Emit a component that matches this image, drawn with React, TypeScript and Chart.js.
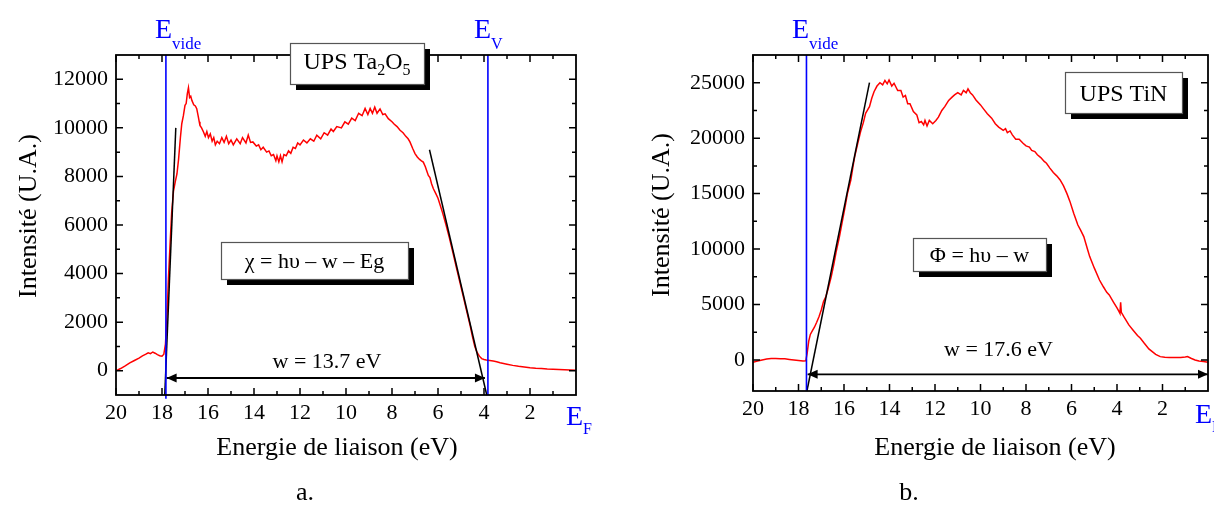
import React, { useEffect, useRef } from "react";
import { Chart, registerables } from "chart.js";
Chart.register(...registerables);

const FONT = "'Liberation Serif', 'Times New Roman', Times, serif";

// ---------- shared axis ticks ----------
const xMajorTicks = [20, 18, 16, 14, 12, 10, 8, 6, 4, 2];
const xTickLabels = ["20", "18", "16", "14", "12", "10", "8", "6", "4", "2"];
const xMinorTicks = [19, 17, 15, 13, 11, 9, 7, 5, 3, 1];

// ---------- chart a : UPS Ta2O5 ----------
const taYTicks = [0, 2000, 4000, 6000, 8000, 10000, 12000];
const taYTickLabels = ["0", "2000", "4000", "6000", "8000", "10000", "12000"];
const taYMinor = [1000, 3000, 5000, 7000, 9000, 11000];

const taEnergy = [
  20.0, 19.8, 19.6, 19.4, 19.2, 19.0, 18.85, 18.7, 18.6, 18.5, 18.4, 18.3, 18.2, 18.1, 18.0, 17.92,
  17.85, 17.78, 17.72, 17.65, 17.58, 17.5, 17.42, 17.35, 17.28, 17.2, 17.14, 17.07, 17.0, 16.95, 16.9,
  16.85, 16.8, 16.75, 16.7, 16.62, 16.55, 16.49, 16.42, 16.38, 16.35, 16.28, 16.2, 16.12, 16.05, 15.98,
  15.9, 15.82, 15.75, 15.68, 15.6, 15.5, 15.4, 15.3, 15.2, 15.1, 15.0, 14.9, 14.75, 14.6, 14.5, 14.35,
  14.25, 14.15, 14.05, 13.9, 13.8, 13.7, 13.6, 13.45, 13.35, 13.25, 13.15, 13.05, 13.0, 12.92, 12.85,
  12.78, 12.7, 12.6, 12.5, 12.4, 12.3, 12.2, 12.1, 12.0, 11.85, 11.7, 11.55, 11.4, 11.27, 11.1, 10.95,
  10.8, 10.65, 10.55, 10.4, 10.2, 10.05, 9.9, 9.75, 9.6, 9.45, 9.3, 9.17, 9.05, 8.95, 8.85, 8.75, 8.65,
  8.52, 8.4, 8.3, 8.16, 8.0, 7.9, 7.78, 7.65, 7.52, 7.4, 7.3, 7.22, 7.1, 7.0, 6.9, 6.8, 6.72, 6.64, 6.55,
  6.48, 6.42, 6.35, 6.28, 6.2, 6.1, 6.0, 5.9, 5.8, 5.65, 5.5, 5.35, 5.2, 5.05, 4.9, 4.75, 4.6, 4.5, 4.4,
  4.3, 4.2, 4.1, 4.0, 3.9, 3.75, 3.6, 3.45, 3.3, 3.15, 3.0, 2.75, 2.5, 2.25, 2.0, 1.75, 1.5, 1.25, 1.0,
  0.75, 0.5, 0.25, 0.0,
];
const taIntensity = [
  0, 90, 200, 320, 420, 520, 610, 680, 740, 700, 770, 720, 660, 620, 600, 680,
  1100, 2300, 3800, 5200, 6500, 7400, 7800, 8100, 8700, 9600, 10170, 10500, 10930, 11000, 11400,
  11650, 11250, 11300, 11130, 10950, 10900, 10790, 10450, 10250, 10100, 10000, 9840, 9650, 9850, 9600,
  9750, 9450, 9600, 9300, 9450, 9350, 9600, 9400, 9650, 9350, 9500, 9300, 9550, 9350, 9600, 9380,
  9700, 9400, 9420, 9250, 9300, 9100, 9200, 9000, 9050, 8850, 8900, 8650, 8850, 8600, 8850,
  8600, 8900, 8850, 9050, 8950, 9200, 9150, 9380, 9300, 9500, 9380, 9550, 9450, 9700, 9550, 9800,
  9700, 9950, 9850, 10050, 10000, 10250, 10150, 10400, 10300, 10600, 10500, 10800, 10550, 10800, 10600, 10850, 10600,
  10780, 10550, 10580, 10380, 10250, 10150, 10050, 9900, 9800, 9650, 9550, 9420, 9150, 8940, 8800, 8700, 8640, 8590, 8400,
  8200, 8040, 7950, 7700, 7490, 7300, 7100, 6800, 6500, 6000, 5450, 4850, 4250, 3650, 3050, 2450, 1850, 1400, 1000,
  750, 600, 500, 460, 440, 420, 400, 370, 330, 300, 270, 220, 180, 150, 120, 100, 90, 70, 60,
  50, 40, 30, 20,
];
const taTangentLowE = [17.4, 17.88];
const taTangentLowI = [10000, -1000];
const taTangentHighE = [6.37, 3.88];
const taTangentHighI = [9100, -1000];
const taVacuumE = [17.83, 17.83];
const taVacuumI = [-1150, 13000];
const taValenceE = [3.83, 3.83];
const taValenceI = [-1000, 13000];
const taArrowE = [17.8, 3.96];
const taArrowI = [-300, -300];

// ---------- chart b : UPS TiN ----------
const tinYTicks = [0, 5000, 10000, 15000, 20000, 25000];
const tinYTickLabels = ["0", "5000", "10000", "15000", "20000", "25000"];
const tinYMinor = [2500, 7500, 12500, 17500, 22500];

const tinEnergy = [
  20.0, 19.8, 19.6, 19.4, 19.2, 19.0, 18.8, 18.6, 18.4, 18.2, 18.0, 17.8, 17.68, 17.62, 17.55, 17.48,
  17.4, 17.3, 17.2, 17.1, 17.0, 16.9, 16.8, 16.7, 16.56, 16.45, 16.35, 16.2, 16.1, 15.95, 15.85, 15.7,
  15.6, 15.53, 15.4, 15.27, 15.15, 15.05, 14.95, 14.88, 14.78, 14.68, 14.55, 14.42, 14.3, 14.2, 14.1,
  14.02, 13.9, 13.8, 13.64, 13.5, 13.4, 13.3, 13.2, 13.1, 12.95, 12.8, 12.7, 12.6, 12.5, 12.44, 12.35,
  12.25, 12.1, 11.96, 11.85, 11.7, 11.57, 11.4, 11.25, 11.14, 11.0, 10.85, 10.75, 10.63, 10.55, 10.45,
  10.35, 10.2, 10.0, 9.85, 9.7, 9.51, 9.35, 9.2, 9.0, 8.9, 8.82, 8.7, 8.6, 8.45, 8.3, 8.13, 8.0, 7.85,
  7.75, 7.61, 7.5, 7.35, 7.2, 7.1, 6.95, 6.8, 6.65, 6.5, 6.35, 6.2, 6.07, 5.9, 5.72, 5.6, 5.46, 5.3,
  5.2, 5.0, 4.77, 4.6, 4.45, 4.34, 4.15, 4.0, 3.91, 3.87, 3.84, 3.81, 3.7, 3.48, 3.3, 3.1, 2.97, 2.8,
  2.6, 2.45, 2.3, 2.1, 1.9, 1.7, 1.42, 1.2, 1.0, 0.9, 0.75, 0.57, 0.4, 0.2, 0.0,
];
const tinIntensity = [
  -200, -100, 0, 80, 120, 130, 110, 100, 50, 0, -50, -100, -80, 600, 1700, 2300,
  2600, 2950, 3400, 3900, 4500, 5260, 5700, 6400, 7510, 8600, 9700, 11120, 12200, 13820, 15000, 16230,
  17500, 18330, 19500, 20590, 21400, 22240, 22600, 22840, 23600, 24190, 24700, 25000, 24800, 25200, 24900,
  25250, 24700, 24950, 24300, 24300, 23700, 23850, 23100, 23100, 22400, 22100, 21400, 21500, 21200, 21600, 21100,
  21600, 21300, 21600, 21900, 22500, 22840, 23400, 23700, 23900, 24100, 23900, 24300, 24100, 24450, 24100,
  23900, 23450, 23000, 22600, 22200, 21800, 21300, 21000, 20700, 20850, 20500, 20650, 20300, 19900, 19900, 19540, 19300, 19200,
  18900, 18790, 18500, 18250, 17900, 17740, 17300, 16900, 16600, 16230, 15700, 15000, 14300, 13200, 12170, 11700, 11120, 10000,
  9320, 8300, 7210, 6600, 6100, 5860, 5200, 4700, 4360, 4200, 5200, 4300, 3900, 3160, 2700, 2200, 1960, 1500,
  1000, 750, 500, 300, 250, 220, 210, 230, 260, 300, 150, 0, -100, -150, -200,
];
const tinTangentE = [14.88, 17.63];
const tinTangentI = [25000, -2800];
const tinVacuumE = [17.65, 17.65];
const tinVacuumI = [-2800, 27500];
const tinArrowE = [17.6, 0.0];
const tinArrowI = [-1300, -1300];

// ---------- helpers ----------
type Seg = { t: string; size: number; dy?: number };

function drawSegs(ctx: CanvasRenderingContext2D, segs: Seg[], x: number, y: number, align: "left" | "center", color: string) {
  ctx.save();
  ctx.fillStyle = color;
  ctx.textAlign = "left";
  ctx.textBaseline = "alphabetic";
  const widths = segs.map((s) => {
    ctx.font = `${s.size}px ${FONT}`;
    return ctx.measureText(s.t).width;
  });
  const total = widths.reduce((a, b) => a + b, 0);
  let cx = align === "center" ? x - total / 2 : x;
  segs.forEach((s, i) => {
    ctx.font = `${s.size}px ${FONT}`;
    ctx.fillText(s.t, cx, y + (s.dy || 0));
    cx += widths[i];
  });
  ctx.restore();
}

function drawBox(ctx: CanvasRenderingContext2D, x1: number, y1: number, x2: number, y2: number) {
  ctx.save();
  ctx.fillStyle = "#000";
  ctx.fillRect(x1 + 6, y1 + 6, x2 - x1, y2 - y1);
  ctx.fillStyle = "#fff";
  ctx.fillRect(x1, y1, x2 - x1, y2 - y1);
  ctx.strokeStyle = "#555";
  ctx.lineWidth = 1.2;
  ctx.strokeRect(x1 + 0.5, y1 + 0.5, x2 - x1, y2 - y1);
  ctx.restore();
}

function arrowHead(ctx: CanvasRenderingContext2D, x: number, y: number, dir: number) {
  ctx.save();
  ctx.fillStyle = "#000";
  ctx.beginPath();
  ctx.moveTo(x, y);
  ctx.lineTo(x - dir * 10, y - 4.5);
  ctx.lineTo(x - dir * 10, y + 4.5);
  ctx.closePath();
  ctx.fill();
  ctx.restore();
}

const pts = (xs: number[], ys: number[]) => xs.map((x, i) => ({ x, y: ys[i] }));

type Spec = {
  width: number;
  height: number;
  area: { left: number; top: number; right: number; bottom: number };
  yMin: number;
  yMax: number;
  yTicks: number[];
  yTickLabels: string[];
  yMinor: number[];
  datasets: any[];
  arrow: { e: number[]; i: number[] };
  annotate: (ctx: CanvasRenderingContext2D) => void;
};

function buildConfig(spec: Spec): any {
  const frame = {
    id: "frame",
    afterDraw(chart: any) {
      const ctx: CanvasRenderingContext2D = chart.ctx;
      const { left, right, top, bottom } = chart.chartArea;
      const xs = chart.scales.x;
      const ys = chart.scales.y;
      ctx.save();
      ctx.strokeStyle = "#000";
      ctx.lineWidth = 1.5;
      ctx.beginPath();
      const tick = (vals: number[], len: number) => {
        vals.forEach((v) => {
          const px = xs.getPixelForValue(v);
          ctx.moveTo(px, bottom);
          ctx.lineTo(px, bottom - len);
          ctx.moveTo(px, top);
          ctx.lineTo(px, top + len);
        });
      };
      const tickY = (vals: number[], len: number) => {
        vals.forEach((v) => {
          const py = ys.getPixelForValue(v);
          ctx.moveTo(left, py);
          ctx.lineTo(left + len, py);
          ctx.moveTo(right, py);
          ctx.lineTo(right - len, py);
        });
      };
      tick(xMajorTicks, 7);
      tick(xMinorTicks, 4);
      tickY(spec.yTicks, 7);
      tickY(spec.yMinor, 4);
      ctx.stroke();
      ctx.lineWidth = 1.8;
      ctx.strokeRect(left, top, right - left, bottom - top);
      ctx.restore();

      // arrow heads at the ends of the width arrow
      const ax1 = xs.getPixelForValue(spec.arrow.e[0]);
      const ax2 = xs.getPixelForValue(spec.arrow.e[1]);
      const ay = ys.getPixelForValue(spec.arrow.i[0]);
      arrowHead(ctx, ax1, ay, -1);
      arrowHead(ctx, ax2, ay, 1);

      spec.annotate(ctx);
    },
  };

  return {
    type: "scatter",
    data: { datasets: spec.datasets },
    options: {
      responsive: false,
      maintainAspectRatio: false,
      animation: false,
      devicePixelRatio: 1,
      events: [],
      layout: {
        padding: { left: 0, top: spec.area.top, right: spec.width - spec.area.right, bottom: 0 },
      },
      plugins: { legend: { display: false }, tooltip: { enabled: false } },
      scales: {
        x: {
          type: "linear",
          reverse: true,
          min: 0,
          max: 20,
          grid: { display: false, drawTicks: false },
          border: { display: false },
          afterFit: (s: any) => {
            s.height = spec.height - spec.area.bottom;
          },
          afterBuildTicks: (s: any) => {
            s.ticks = xMajorTicks.map((v) => ({ value: v }));
          },
          ticks: {
            font: { family: FONT, size: 22 },
            color: "#000",
            padding: 5,
            autoSkip: false,
            maxRotation: 0,
            callback: (_v: any, i: number) => xTickLabels[i],
          },
        },
        y: {
          type: "linear",
          min: spec.yMin,
          max: spec.yMax,
          grid: { display: false, drawTicks: false },
          border: { display: false },
          afterFit: (s: any) => {
            s.width = spec.area.left;
          },
          afterBuildTicks: (s: any) => {
            s.ticks = spec.yTicks.map((v) => ({ value: v }));
          },
          ticks: {
            font: { family: FONT, size: 22 },
            color: "#000",
            padding: 8,
            autoSkip: false,
            callback: (_v: any, i: number) => spec.yTickLabels[i],
          },
        },
      },
    },
    plugins: [frame],
  };
}

const lineDs = (data: any[], color: string, width: number, order: number, clip: any = false) => ({
  data,
  showLine: true,
  borderColor: color,
  backgroundColor: color,
  borderWidth: width,
  pointRadius: 0,
  tension: 0,
  order,
  clip,
});

const taSpec: Spec = {
  width: 600,
  height: 509,
  area: { left: 116, top: 55, right: 576, bottom: 395 },
  yMin: -1000,
  yMax: 13000,
  yTicks: taYTicks,
  yTickLabels: taYTickLabels,
  yMinor: taYMinor,
  arrow: { e: taArrowE, i: taArrowI },
  datasets: [
    lineDs(pts(taVacuumE, taVacuumI), "#0000ff", 1.6, 0),
    lineDs(pts(taValenceE, taValenceI), "#0000ff", 1.6, 0),
    lineDs(pts(taTangentLowE, taTangentLowI), "#000", 1.5, 1),
    lineDs(pts(taTangentHighE, taTangentHighI), "#000", 1.5, 1),
    lineDs(pts(taArrowE, taArrowI), "#000", 1.8, 2),
    lineDs(pts(taEnergy, taIntensity), "#ff0000", 1.5, 3, true),
  ],
  annotate: (ctx) => {
    drawSegs(ctx, [{ t: "E", size: 28 }, { t: "vide", size: 17, dy: 11 }], 155, 38, "left", "#0000ff");
    drawSegs(ctx, [{ t: "E", size: 28 }, { t: "V", size: 16, dy: 11 }], 474, 38, "left", "#0000ff");
    drawSegs(ctx, [{ t: "E", size: 28 }, { t: "F", size: 16, dy: 9 }], 566, 425, "left", "#0000ff");
    drawBox(ctx, 290, 43, 424, 84);
    drawSegs(
      ctx,
      [
        { t: "UPS Ta", size: 24 },
        { t: "2", size: 16, dy: 6 },
        { t: "O", size: 24 },
        { t: "5", size: 16, dy: 6 },
      ],
      357,
      69,
      "center",
      "#000"
    );
    drawBox(ctx, 221, 242, 408, 279);
    drawSegs(ctx, [{ t: "χ = hυ – w – Eg", size: 22 }], 314.5, 268, "center", "#000");
    drawSegs(ctx, [{ t: "w = 13.7 eV", size: 22 }], 327, 368, "center", "#000");
    drawSegs(ctx, [{ t: "Energie de liaison (eV)", size: 26 }], 337, 455, "center", "#000");
    drawSegs(ctx, [{ t: "a.", size: 26 }], 305, 500, "center", "#000");
    ctx.save();
    ctx.translate(36, 216);
    ctx.rotate(-Math.PI / 2);
    drawSegs(ctx, [{ t: "Intensité (U.A.)", size: 26 }], 0, 0, "center", "#000");
    ctx.restore();
  },
};

const tinSpec: Spec = {
  width: 614,
  height: 509,
  area: { left: 153, top: 55, right: 608, bottom: 391 },
  yMin: -2800,
  yMax: 27500,
  yTicks: tinYTicks,
  yTickLabels: tinYTickLabels,
  yMinor: tinYMinor,
  arrow: { e: tinArrowE, i: tinArrowI },
  datasets: [
    lineDs(pts(tinVacuumE, tinVacuumI), "#0000ff", 1.6, 0),
    lineDs(pts(tinTangentE, tinTangentI), "#000", 1.5, 1),
    lineDs(pts(tinArrowE, tinArrowI), "#000", 1.8, 2),
    lineDs(pts(tinEnergy, tinIntensity), "#ff0000", 1.5, 3, true),
  ],
  annotate: (ctx) => {
    drawSegs(ctx, [{ t: "E", size: 28 }, { t: "vide", size: 17, dy: 11 }], 192, 38, "left", "#0000ff");
    drawSegs(ctx, [{ t: "E", size: 28 }, { t: "F", size: 16, dy: 9 }], 595, 423, "left", "#0000ff");
    drawBox(ctx, 465, 72, 582, 113);
    drawSegs(ctx, [{ t: "UPS TiN", size: 24 }], 523.5, 101, "center", "#000");
    drawBox(ctx, 313, 238, 446, 271);
    drawSegs(ctx, [{ t: "Φ = hυ – w", size: 22 }], 379.5, 262, "center", "#000");
    drawSegs(ctx, [{ t: "w = 17.6 eV", size: 22 }], 398.5, 356, "center", "#000");
    drawSegs(ctx, [{ t: "Energie de liaison (eV)", size: 26 }], 395, 455, "center", "#000");
    drawSegs(ctx, [{ t: "b.", size: 26 }], 309, 500, "center", "#000");
    ctx.save();
    ctx.translate(69, 215);
    ctx.rotate(-Math.PI / 2);
    drawSegs(ctx, [{ t: "Intensité (U.A.)", size: 26 }], 0, 0, "center", "#000");
    ctx.restore();
  },
};

function SpectrumChart({ spec, left }: { spec: Spec; left: number }) {
  const ref = useRef<HTMLCanvasElement>(null);
  useEffect(() => {
    if (!ref.current) return;
    const chart = new Chart(ref.current, buildConfig(spec));
    return () => chart.destroy();
  }, [spec]);
  return (
    <canvas
      ref={ref}
      width={spec.width}
      height={spec.height}
      style={{ position: "absolute", left, top: 0, width: spec.width, height: spec.height }}
    />
  );
}

export default function App() {
  return (
    <div
      style={{
        position: "fixed",
        left: 0,
        top: 0,
        width: 1214,
        height: 509,
        background: "#fff",
        overflow: "hidden",
      }}
    >
      <SpectrumChart spec={taSpec} left={0} />
      <SpectrumChart spec={tinSpec} left={600} />
    </div>
  );
}
